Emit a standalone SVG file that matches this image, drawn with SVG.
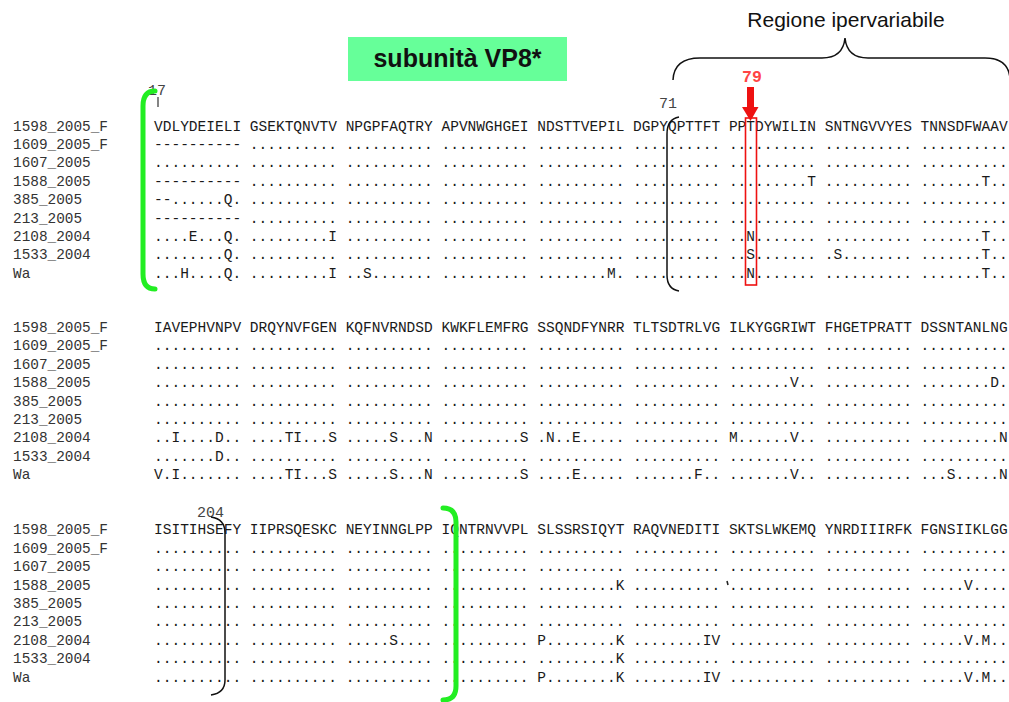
<svg xmlns="http://www.w3.org/2000/svg" width="1009" height="702" viewBox="0 0 1009 702">
<style>
.lab{font-family:"Liberation Mono",monospace;font-size:14.4px;fill:#333}
.seq{font-family:"Liberation Mono",monospace;font-size:14.52px;fill:#1a1a1a}
.num{font-family:"Liberation Mono",monospace;font-size:15px;fill:#444}
.gb{fill:none;stroke:#22ee22;stroke-width:5;stroke-linecap:round}
.bb{fill:none;stroke:#111;stroke-width:1.5}
</style>
<rect width="1009" height="702" fill="#fff"/>
<g id="title">
<rect x="348" y="37" width="219" height="44" fill="#66ff99"/>
<text x="457.5" y="67" text-anchor="middle" font-family="Liberation Sans,Arial,sans-serif" font-weight="bold" font-size="25" fill="#111">subunità VP8*</text>
</g>
<g id="hypervariable">
<text x="846" y="27" text-anchor="middle" font-family="Liberation Sans,Arial,sans-serif" font-size="21" fill="#111">Regione ipervariabile</text>
<path class="bb" d="M673 80 Q674 58 700 58 L822 58 Q843 58 845 38 Q847 58 868 58 L985 58 Q1008 58 1010 78"/>
</g>
<g id="block1">
<text class="num" x="148" y="95">17</text>
<line x1="158" y1="97" x2="158" y2="107" stroke="#333" stroke-width="1.2"/>
<text class="num" x="659" y="108">71</text>
<text class="lab" x="13" y="130.5">1598_2005_F</text>
<text class="lab" x="13" y="148.9">1609_2005_F</text>
<text class="lab" x="13" y="167.3">1607_2005</text>
<text class="lab" x="13" y="185.7">1588_2005</text>
<text class="lab" x="13" y="204.1">385_2005</text>
<text class="lab" x="13" y="222.5">213_2005</text>
<text class="lab" x="13" y="240.9">2108_2004</text>
<text class="lab" x="13" y="259.3">1533_2004</text>
<text class="lab" x="13" y="277.7">Wa</text>
<text class="seq" x="154" y="130.5">VDLYDEIELI GSEKTQNVTV NPGPFAQTRY APVNWGHGEI NDSTTVEPIL DGPYQPTTFT PPTDYWILIN SNTNGVVYES TNNSDFWAAV</text>
<text class="seq" x="154" y="148.9">---------- .......... .......... .......... .......... .......... .......... .......... ..........</text>
<text class="seq" x="154" y="167.3">.......... .......... .......... .......... .......... .......... .......... .......... ..........</text>
<text class="seq" x="154" y="185.7">---------- .......... .......... .......... .......... .......... .........T .......... .......T..</text>
<text class="seq" x="154" y="204.1">--......Q. .......... .......... .......... .......... .......... .......... .......... ..........</text>
<text class="seq" x="154" y="222.5">---------- .......... .......... .......... .......... .......... .......... .......... ..........</text>
<text class="seq" x="154" y="240.9">....E...Q. .........I .......... .......... .......... .......... ..N....... .......... .......T..</text>
<text class="seq" x="154" y="259.3">........Q. .......... .......... .......... .......... .......... ..S....... .S........ .......T..</text>
<text class="seq" x="154" y="277.7">...H....Q. .........I ..S....... .......... ........M. .......... ..N....... .......... .......T..</text>
</g>
<g id="block2">
<text class="lab" x="13" y="332">1598_2005_F</text>
<text class="lab" x="13" y="350.4">1609_2005_F</text>
<text class="lab" x="13" y="368.8">1607_2005</text>
<text class="lab" x="13" y="387.2">1588_2005</text>
<text class="lab" x="13" y="405.6">385_2005</text>
<text class="lab" x="13" y="424">213_2005</text>
<text class="lab" x="13" y="442.4">2108_2004</text>
<text class="lab" x="13" y="460.8">1533_2004</text>
<text class="lab" x="13" y="479.2">Wa</text>
<text class="seq" x="154" y="332">IAVEPHVNPV DRQYNVFGEN KQFNVRNDSD KWKFLEMFRG SSQNDFYNRR TLTSDTRLVG ILKYGGRIWT FHGETPRATT DSSNTANLNG</text>
<text class="seq" x="154" y="350.4">.......... .......... .......... .......... .......... .......... .......... .......... ..........</text>
<text class="seq" x="154" y="368.8">.......... .......... .......... .......... .......... .......... .......... .......... ..........</text>
<text class="seq" x="154" y="387.2">.......... .......... .......... .......... .......... .......... .......V.. .......... ........D.</text>
<text class="seq" x="154" y="405.6">.......... .......... .......... .......... .......... .......... .......... .......... ..........</text>
<text class="seq" x="154" y="424">.......... .......... .......... .......... .......... .......... .......... .......... ..........</text>
<text class="seq" x="154" y="442.4">..I....D.. ....TI...S .....S...N .........S .N..E..... .......... M......V.. .......... .........N</text>
<text class="seq" x="154" y="460.8">.......D.. .......... .......... .......... .......... .......... .......... .......... ..........</text>
<text class="seq" x="154" y="479.2">V.I....... ....TI...S .....S...N .........S ....E..... .......F.. .......V.. .......... ...S.....N</text>
</g>
<g id="block3">
<text class="num" x="197" y="517">204</text>
<text class="lab" x="13" y="534.3">1598_2005_F</text>
<text class="lab" x="13" y="552.7">1609_2005_F</text>
<text class="lab" x="13" y="571.1">1607_2005</text>
<text class="lab" x="13" y="589.5">1588_2005</text>
<text class="lab" x="13" y="607.9">385_2005</text>
<text class="lab" x="13" y="626.3">213_2005</text>
<text class="lab" x="13" y="644.7">2108_2004</text>
<text class="lab" x="13" y="663.1">1533_2004</text>
<text class="lab" x="13" y="681.5">Wa</text>
<text class="seq" x="154" y="534.3">ISITIHSEFY IIPRSQESKC NEYINNGLPP IQNTRNVVPL SLSSRSIQYT RAQVNEDITI SKTSLWKEMQ YNRDIIIRFK FGNSIIKLGG</text>
<text class="seq" x="154" y="552.7">.......... .......... .......... .......... .......... .......... .......... .......... ..........</text>
<text class="seq" x="154" y="571.1">.......... .......... .......... .......... .......... .......... .......... .......... ..........</text>
<text class="seq" x="154" y="589.5">.......... .......... .......... .......... .........K .......... .......... .......... .....V....</text>
<text class="seq" x="154" y="607.9">.......... .......... .......... .......... .......... .......... .......... .......... ..........</text>
<text class="seq" x="154" y="626.3">.......... .......... .......... .......... .......... .......... .......... .......... ..........</text>
<text class="seq" x="154" y="644.7">.......... .......... .....S.... .......... P........K ........IV .......... .......... .....V.M..</text>
<text class="seq" x="154" y="663.1">.......... .......... .......... .......... .........K .......... .......... .......... ..........</text>
<text class="seq" x="154" y="681.5">.......... .......... .......... .......... P........K ........IV .......... .......... .....V.M..</text>
<line x1="727" y1="581" x2="728" y2="585" stroke="#222" stroke-width="1.6"/>
</g>
<g id="connectors">
<path class="gb" d="M155 91 Q143 91 143 106 L143 274 Q143 289 155 289"/>
<path class="bb" d="M679 117 Q667 119 667 134 L667 275 Q667 289 679 291"/>
<rect x="745.5" y="118" width="11" height="167" fill="none" stroke="#ee1111" stroke-width="1.6"/>
<text x="742" y="82" font-family="Liberation Mono,monospace" font-weight="bold" font-size="16.5" fill="#ff4444">79</text>
<rect x="747" y="87" width="7" height="22" fill="#ee1111"/>
<polygon points="742,107 758.5,107 750.5,121" fill="#ee1111"/>
<path class="bb" d="M211 517 Q225 519 225 533 L225 680 Q225 693 211 695"/>
<path class="gb" d="M443 508 Q456 508 456 522 L456 686 Q456 700 443 700"/>
</g>
</svg>
